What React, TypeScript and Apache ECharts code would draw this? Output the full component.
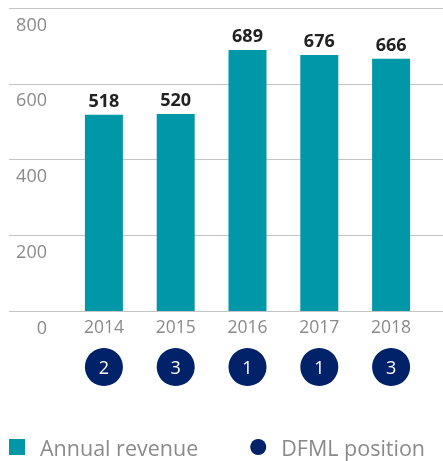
import React, { useEffect, useRef } from "react";
import * as echarts from "echarts";

const years = ["2014", "2015", "2016", "2017", "2018"];
const revenue = [518, 520, 689, 676, 666];
const dfmlPosition = [2, 3, 1, 1, 3];
const yTicks = { min: 0, max: 800, interval: 200 };

const TEAL = "#0097a9";
const NAVY = "#012169";
const GREY = "#8a8a8a";
const FONT = "Open Sans";

export default function App() {
  const ref = useRef<HTMLDivElement>(null);
  useEffect(() => {
    if (!ref.current) return;
    const chart = echarts.init(ref.current, undefined, { renderer: "svg" });
    const top = 8;
    const bottom = 150;
    chart.setOption({
      animation: false,
      textStyle: { fontFamily: FONT },
      legend: {
        left: 9,
        top: 436,
        padding: 0,
        itemWidth: 16,
        itemHeight: 16,
        itemGap: 52,
        data: [
          { name: "Annual revenue", icon: "rect" },
          { name: "DFML position", icon: "circle" },
        ],
        textStyle: {
          fontFamily: FONT,
          fontSize: 21.5,
          color: GREY,
          padding: [0, 0, 0, 10],
        },
      },
      grid: [
        { left: 9, right: 0, top, bottom },
        { left: 68, right: 16, top, bottom },
        { left: 68, right: 16, top: 348, height: 38 },
      ],
      xAxis: [
        { gridIndex: 0, type: "category", data: years, show: false },
        {
          gridIndex: 1,
          type: "category",
          data: years,
          axisLine: { show: false },
          axisTick: { show: false },
          axisLabel: { color: GREY, fontSize: 17.5, margin: 6, fontFamily: FONT },
        },
        { gridIndex: 2, type: "category", data: years, show: false },
      ],
      yAxis: [
        {
          gridIndex: 0,
          type: "value",
          min: yTicks.min,
          max: yTicks.max,
          interval: yTicks.interval,
          axisLine: { show: false },
          axisTick: { show: false },
          splitLine: { lineStyle: { color: "#c4c4c4", width: 1 } },
          axisLabel: {
            inside: true,
            align: "right",
            margin: 38,
            verticalAlign: "top",
            lineHeight: 31,
            color: GREY,
            fontSize: 18,
            fontFamily: FONT,
          },
        },
        {
          gridIndex: 1,
          type: "value",
          min: yTicks.min,
          max: yTicks.max,
          interval: yTicks.interval,
          show: false,
        },
        { gridIndex: 2, type: "category", data: ["DFML"], show: false },
      ],
      series: [
        {
          name: "Annual revenue",
          type: "bar",
          xAxisIndex: 1,
          yAxisIndex: 1,
          data: revenue,
          barWidth: 38,
          itemStyle: { color: TEAL },
          label: {
            show: true,
            position: "top",
            distance: 6,
            fontWeight: "bold",
            fontSize: 18,
            color: "#222",
            fontFamily: FONT,
          },
        },
        {
          name: "DFML position",
          type: "scatter",
          xAxisIndex: 2,
          yAxisIndex: 2,
          symbolSize: 38,
          itemStyle: { color: NAVY, opacity: 1 },
          data: dfmlPosition.map((p, i) => [years[i], "DFML", p]),
          encode: { x: 0, y: 1 },
          label: {
            show: true,
            position: "inside",
            formatter: (p: any) => String(p.value[2]),
            color: "#fff",
            fontSize: 18,
            fontFamily: FONT,
          },
        },
      ],
    });
    return () => chart.dispose();
  }, []);
  return (
    <div
      ref={ref}
      style={{ position: "fixed", left: 0, top: 0, width: 443, height: 461 }}
    />
  );
}
